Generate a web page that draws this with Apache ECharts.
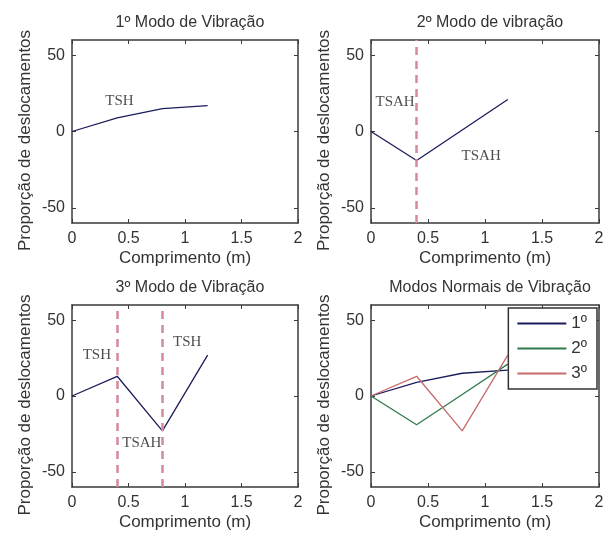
<!DOCTYPE html>
<html>
<head>
<meta charset="utf-8">
<script src="https://cdn.jsdelivr.net/npm/echarts@6/dist/echarts.min.js"></script>
<style>
  html, body { margin: 0; padding: 0; background: #fff; }
  #chart { width: 611px; height: 534px; }
</style>
</head>
<body>
<div id="chart"></div>
<script>
// comprimento (m) dos pontos dos modos
const positions = [0, 0.4, 0.8, 1.2];
const mode1 = [0, 9, 15, 17];
const mode2 = [0, -19, 1, 21];
const mode3 = [0, 13, -23, 27];

const titles = ['1º Modo de Vibração', '2º Modo de vibração', '3º Modo de Vibração', 'Modos Normais de Vibração'];
const legendNames = ['1º', '2º', '3º'];
const xTicks = [0, 0.5, 1, 1.5, 2];
const yTicks = [-50, 0, 50];

// linhas tracejadas (divisões entre trechos)
const dividers2 = [0.4];
const dividers3 = [0.4, 0.8];

// anotações [x, y, texto]
const notes1 = [[0.29, 20, 'TSH']];
const notes2 = [[0.035, 19.5, 'TSAH'], [0.79, -16, 'TSAH']];
const notes3 = [[0.09, 27, 'TSH'], [0.44, -31, 'TSAH'], [0.89, 35.5, 'TSH']];

const NAVY = '#1c1c5c';
const GREEN = '#2f7a4c';
const RED = '#c86a6a';
const DASH = '#d48a98';
const AXIS = '#3a3a3a';
const FONT = 'Liberation Sans, Arial, sans-serif';

const grids = [
  { left: 72, top: 40, width: 226, height: 183 },
  { left: 371, top: 40, width: 228, height: 183 },
  { left: 72, top: 305, width: 226, height: 182 },
  { left: 371, top: 305, width: 228, height: 182 },
];

const chart = echarts.init(document.getElementById('chart'));

const xAxes = [];
const yAxes = [];
grids.forEach((g, i) => {
  xAxes.push({
    gridIndex: i, type: 'value', min: 0, max: 2, position: 'bottom',
    name: 'Comprimento (m)', nameLocation: 'middle', nameGap: 27,
    nameTextStyle: { fontSize: 17, color: '#333', fontFamily: FONT },
    axisLine: { show: true, onZero: false, lineStyle: { color: AXIS, width: 1.5 } },
    axisTick: { show: true, inside: true, length: 4, customValues: xTicks, lineStyle: { color: AXIS } },
    axisLabel: { customValues: xTicks, fontSize: 16, color: '#333', margin: 8, fontFamily: FONT },
    splitLine: { show: false },
  });
  xAxes.push({
    gridIndex: i, type: 'value', min: 0, max: 2, position: 'top',
    axisLine: { show: true, onZero: false, lineStyle: { color: AXIS, width: 1.5 } },
    axisTick: { show: true, inside: true, length: 4, customValues: xTicks, lineStyle: { color: AXIS } },
    axisLabel: { show: false },
    splitLine: { show: false },
  });
  yAxes.push({
    gridIndex: i, type: 'value', min: -60, max: 60, position: 'left',
    name: 'Proporção de deslocamentos', nameLocation: 'middle', nameGap: 38,
    nameTextStyle: { fontSize: 17, color: '#333', fontFamily: FONT, padding: [0, 18, 0, 0] },
    axisLine: { show: true, onZero: false, lineStyle: { color: AXIS, width: 1.5 } },
    axisTick: { show: true, inside: true, length: 4, customValues: yTicks, lineStyle: { color: AXIS } },
    axisLabel: { customValues: yTicks, fontSize: 16, color: '#333', margin: 7, fontFamily: FONT },
    splitLine: { show: false },
  });
  yAxes.push({
    gridIndex: i, type: 'value', min: -60, max: 60, position: 'right',
    axisLine: { show: true, onZero: false, lineStyle: { color: AXIS, width: 1.5 } },
    axisTick: { show: true, inside: true, length: 4, customValues: yTicks, lineStyle: { color: AXIS } },
    axisLabel: { show: false },
    splitLine: { show: false },
  });
});

function pairs(vals) {
  return positions.map((x, k) => [x, vals[k]]);
}

function lineSeries(name, grid, vals, color, dividers) {
  const s = {
    name: name, type: 'line', xAxisIndex: grid * 2, yAxisIndex: grid * 2,
    data: pairs(vals), symbol: 'none', lineStyle: { color: color, width: 1.3 },
    itemStyle: { color: color }, z: 3,
  };
  if (dividers) {
    s.markLine = {
      silent: true, symbol: ['none', 'none'], label: { show: false },
      lineStyle: { color: DASH, width: 2.5, type: [8, 6] },
      data: dividers.map((d) => ({ xAxis: d })),
    };
  }
  return s;
}

function noteSeries(grid, notes) {
  return {
    type: 'scatter', xAxisIndex: grid * 2, yAxisIndex: grid * 2,
    data: notes.map((n) => ({ value: [n[0], n[1]], name: n[2] })),
    symbolSize: 1, itemStyle: { color: 'rgba(0,0,0,0)' }, silent: true,
    label: {
      show: true, position: 'right', distance: 0, formatter: (p) => p.name,
      fontFamily: 'Liberation Serif, Times New Roman, serif', fontSize: 15, color: '#222',
      align: 'left', verticalAlign: 'middle',
    },
    z: 5,
  };
}

const option = {
  animation: false,
  backgroundColor: '#fff',
  title: titles.map((t, i) => ({
    text: t,
    left: grids[i].left + grids[i].width / 2,
    top: grids[i].top - 30,
    textAlign: 'center',
    textStyle: { fontSize: 16, fontWeight: 'normal', color: '#333', fontFamily: FONT },
  })),
  legend: {
    data: legendNames,
    orient: 'vertical',
    right: 14, top: 308,
    width: 85,
    backgroundColor: '#fff',
    borderColor: '#333', borderWidth: 1.5, borderRadius: 0,
    padding: [7, 10, 7, 9],
    itemWidth: 49, itemHeight: 2, itemGap: 8,
    icon: 'rect',
    textStyle: { fontSize: 17, color: '#333', fontFamily: FONT, lineHeight: 17 },
  },
  grid: grids,
  xAxis: xAxes,
  yAxis: yAxes,
  series: [
    lineSeries('modo1', 0, mode1, NAVY),
    noteSeries(0, notes1),
    lineSeries('modo2', 1, mode2, NAVY, dividers2),
    noteSeries(1, notes2),
    lineSeries('modo3', 2, mode3, NAVY, dividers3),
    noteSeries(2, notes3),
    lineSeries('1º', 3, mode1, NAVY),
    lineSeries('2º', 3, mode2, GREEN),
    lineSeries('3º', 3, mode3, RED),
  ],
};

chart.setOption(option);
</script>
</body>
</html>
